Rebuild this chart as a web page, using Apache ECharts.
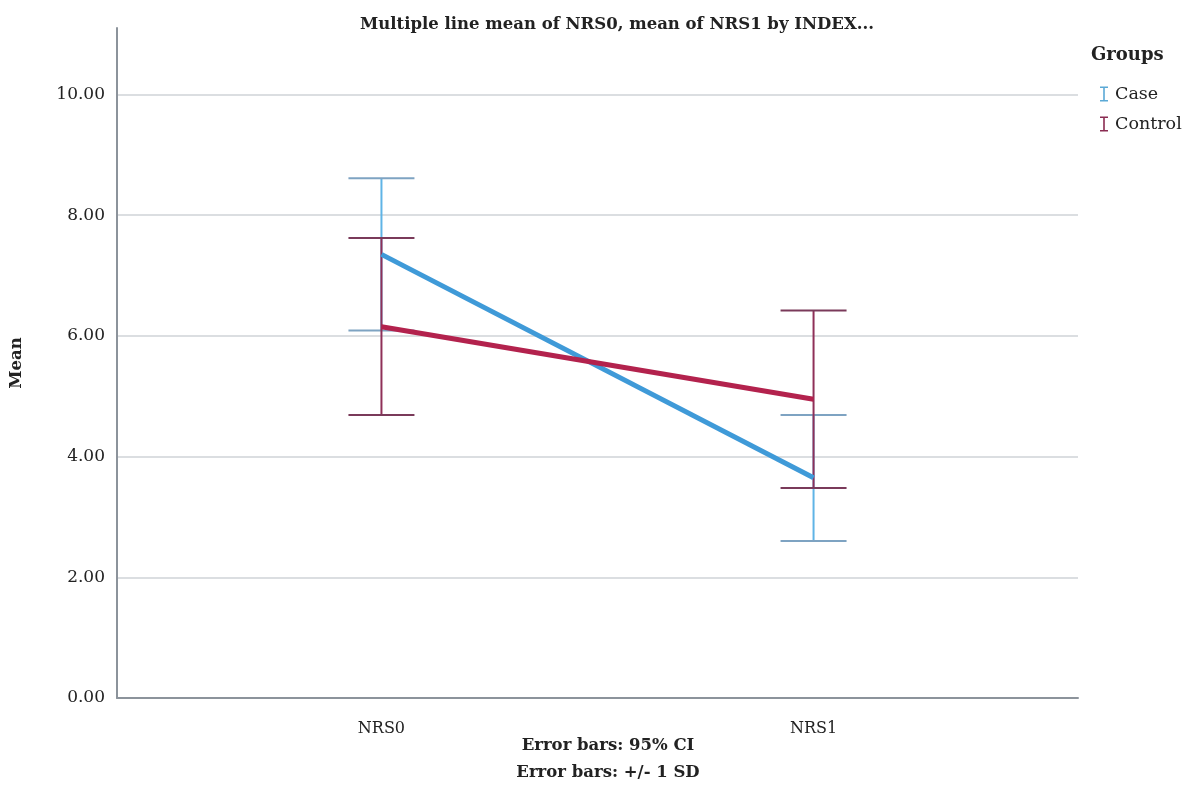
<!DOCTYPE html>
<html>
<head>
<meta charset="utf-8">
<script src="https://cdn.jsdelivr.net/npm/echarts@6/dist/echarts.min.js"></script>
<style>html,body{margin:0;padding:0;background:#fff;}#chart{width:1195px;height:785px;}</style>
</head>
<body>
<div id="chart"></div>
<script>
const categories = ['NRS0', 'NRS1'];
const groups = ['Case', 'Control'];
const caseMean = [7.35, 3.65];
const caseLow = [6.09, 2.60];
const caseHigh = [8.61, 4.69];
const controlMean = [6.15, 4.95];
const controlLow = [4.69, 3.48];
const controlHigh = [7.62, 6.42];
const yTicks = [0, 2, 4, 6, 8, 10];

const FONT = 'DejaVu Serif';
const chart = echarts.init(document.getElementById('chart'));

function errorSeries(name, low, high, lineColor, capColor) {
  return {
    type: 'custom',
    name: name + ' err',
    z: 1,
    silent: true,
    data: low.map((l, i) => [i, l, high[i]]),
    renderItem: function (params, api) {
      const lo = api.coord([api.value(0), api.value(1)]);
      const hi = api.coord([api.value(0), api.value(2)]);
      const hw = 33;
      return {
        type: 'group',
        children: [
          { type: 'line', shape: { x1: hi[0], y1: hi[1], x2: lo[0], y2: lo[1] }, style: { stroke: lineColor, lineWidth: 2 } },
          { type: 'line', shape: { x1: hi[0] - hw, y1: hi[1], x2: hi[0] + hw, y2: hi[1] }, style: { stroke: capColor, lineWidth: 2 } },
          { type: 'line', shape: { x1: lo[0] - hw, y1: lo[1], x2: lo[0] + hw, y2: lo[1] }, style: { stroke: capColor, lineWidth: 2 } }
        ]
      };
    }
  };
}

const iconPath = 'path://M0,0H8V1.6H4.8V13.4H8V15H0V13.4H3.2V1.6H0Z';

chart.setOption({
  animation: false,
  backgroundColor: '#ffffff',
  title: {
    text: 'Multiple line mean of NRS0, mean of NRS1 by INDEX...',
    left: 612,
    top: 11,
    textAlign: 'center',
    textStyle: { fontFamily: FONT, fontWeight: 'bold', fontSize: 16.5, color: '#222' }
  },
  graphic: [
    { type: 'text', left: 1091, top: 46, style: { text: 'Groups', font: 'bold 18px "' + FONT + '"', fill: '#222' } },
    { type: 'text', x: 608, y: 746, style: { text: 'Error bars: 95% CI', font: 'bold 16.5px "' + FONT + '"', fill: '#222', align: 'center', verticalAlign: 'middle' } },
    { type: 'text', x: 608, y: 773, style: { text: 'Error bars: +/- 1 SD', font: 'bold 16.5px "' + FONT + '"', fill: '#222', align: 'center', verticalAlign: 'middle' } }
  ],
  legend: {
    orient: 'vertical',
    left: 1095,
    top: 80,
    itemWidth: 8,
    itemHeight: 15,
    itemGap: 12,
    data: [
      { name: 'Case', icon: iconPath, itemStyle: { color: '#5ba9d6' } },
      { name: 'Control', icon: iconPath, itemStyle: { color: '#8a2c52' } }
    ],
    textStyle: { fontFamily: FONT, fontSize: 17.5, color: '#222', padding: [0, 0, 0, 2] }
  },
  grid: { left: 115, right: 117, top: 28, bottom: 87 },
  xAxis: {
    type: 'value',
    min: -0.612,
    max: 1.612,
    splitLine: { show: false },
    axisTick: { show: false },
    axisLine: { show: true, lineStyle: { color: '#8c939b', width: 2 } },
    axisLabel: {
      customValues: [0, 1],
      formatter: v => categories[Math.round(v)],
      fontFamily: FONT, fontSize: 16, color: '#222', margin: 23
    }
  },
  yAxis: {
    type: 'value',
    min: 0,
    max: 11.1,
    interval: 2,
    name: 'Mean',
    nameLocation: 'middle',
    nameGap: 92,
    nameTextStyle: { fontFamily: FONT, fontWeight: 'bold', fontSize: 16.5, color: '#222' },
    axisLine: { show: true, onZero: false, lineStyle: { color: '#8c939b', width: 2 } },
    axisTick: { show: false },
    axisLabel: {
      customValues: yTicks,
      formatter: v => v.toFixed(2),
      fontFamily: FONT, fontSize: 17, color: '#222', margin: 12
    },
    splitLine: { show: true, lineStyle: { color: '#cfd3d7', width: 1.5 }, showMinLine: false, showMaxLine: false }
  },
  series: [
    errorSeries('Case', caseLow, caseHigh, '#5fb4e6', '#7ea3c2'),
    errorSeries('Control', controlLow, controlHigh, '#8f3058', '#7a3a5a'),
    {
      name: 'Case', type: 'line', z: 3, symbol: 'none',
      data: caseMean.map((v, i) => [i, v]),
      lineStyle: { color: '#3f9ad8', width: 5 }, itemStyle: { color: '#3f9ad8' }
    },
    {
      name: 'Control', type: 'line', z: 4, symbol: 'none',
      data: controlMean.map((v, i) => [i, v]),
      lineStyle: { color: '#b3224d', width: 5 }, itemStyle: { color: '#b3224d' }
    }
  ]
});
</script>
</body>
</html>
